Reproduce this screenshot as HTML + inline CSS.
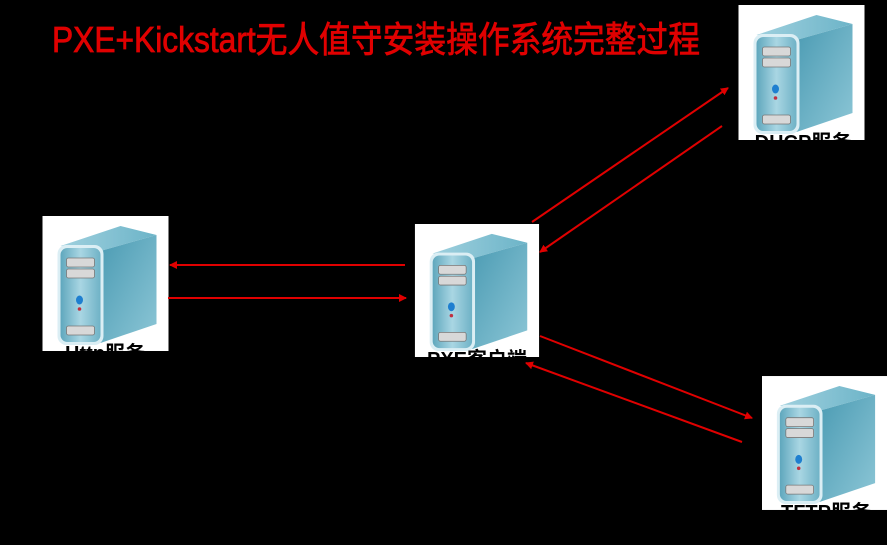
<!DOCTYPE html>
<html><head><meta charset="utf-8"><style>html,body{margin:0;padding:0;background:#000;}svg{display:block}</style></head>
<body>
<svg width="887" height="545" viewBox="0 0 887 545" xmlns="http://www.w3.org/2000/svg">
<defs>
<linearGradient id="front" x1="0" y1="0" x2="1" y2="0"><stop offset="0" stop-color="#5fa7bd"/><stop offset="0.5" stop-color="#a9d6e3"/><stop offset="1" stop-color="#6fb2c6"/></linearGradient>
<linearGradient id="side" x1="0" y1="0" x2="1" y2="1"><stop offset="0" stop-color="#4b9bb3"/><stop offset="1" stop-color="#8cc6d6"/></linearGradient>
<linearGradient id="top" x1="0" y1="0" x2="1" y2="0"><stop offset="0" stop-color="#9fd0de"/><stop offset="1" stop-color="#6cb4c8"/></linearGradient>
<marker id="ah" markerWidth="8" markerHeight="8" refX="7" refY="4" orient="auto" markerUnits="userSpaceOnUse"><path d="M0,0 L8,4 L0,8 Z" fill="#e00000"/></marker>
<symbol id="srv" viewBox="0 0 126 135">
<rect width="126" height="135" fill="#fff"/>
<polygon points="18,30 58,35 114,19 78,10" fill="url(#top)"/>
<polygon points="58,35 114,19 114,108 58,127" fill="url(#side)"/>
<rect x="15" y="29" width="46" height="100" rx="9" fill="#dbeef4"/>
<rect x="18" y="32" width="40" height="94" rx="7" fill="url(#front)"/>
<rect x="24" y="42" width="28" height="9" rx="2" fill="#d8d8d8" stroke="#777" stroke-width="0.8"/>
<rect x="24" y="53" width="28" height="9" rx="2" fill="#d8d8d8" stroke="#777" stroke-width="0.8"/>
<ellipse cx="37" cy="84" rx="3.5" ry="4.5" fill="#1e7fd0"/>
<circle cx="37" cy="93" r="1.8" fill="#c03040"/>
<rect x="24" y="110" width="28" height="9" rx="2" fill="#d8d8d8" stroke="#777" stroke-width="0.8"/>
</symbol>
<clipPath id="c1"><rect x="42" y="216" width="127" height="135"/></clipPath>
<clipPath id="c2"><rect x="414" y="224" width="126" height="133"/></clipPath>
<clipPath id="c3"><rect x="738" y="5" width="127" height="135"/></clipPath>
<clipPath id="c4"><rect x="762" y="376" width="125" height="134"/></clipPath>
</defs>

<text x="52" y="52" fill="#e00000" stroke="#e00000" stroke-width="0.8" font-family="'Liberation Sans','Noto Sans CJK SC',sans-serif" font-size="36" textLength="648" lengthAdjust="spacingAndGlyphs">PXE+Kickstart无人值守安装操作系统完整过程</text>

<use href="#srv" x="42" y="216" width="127" height="135"/>
<use href="#srv" x="414" y="224" width="126" height="133"/>
<use href="#srv" x="738" y="5" width="127" height="135"/>
<use href="#srv" x="762" y="376" width="125" height="134"/>

<g font-family="'Liberation Sans','Noto Sans CJK SC',sans-serif" font-size="20" font-weight="bold" fill="#000">
<text x="105" y="360" text-anchor="middle" clip-path="url(#c1)">Http服务</text>
<text x="477" y="366" text-anchor="middle" clip-path="url(#c2)">PXE客户端</text>
<text x="803" y="149" text-anchor="middle" clip-path="url(#c3)">DHCP服务</text>
<text x="826" y="519" text-anchor="middle" clip-path="url(#c4)">TFTP服务</text>
</g>

<g stroke="#e00000" stroke-width="2" fill="none" marker-end="url(#ah)">
<line x1="405" y1="265" x2="170" y2="265"/>
<line x1="168" y1="298" x2="406" y2="298"/>
<line x1="532" y1="222" x2="728" y2="88"/>
<line x1="722" y1="126" x2="540" y2="252"/>
<line x1="540" y1="336" x2="752" y2="418"/>
<line x1="742" y1="442" x2="526" y2="363"/>
</g>
</svg>
</body></html>
